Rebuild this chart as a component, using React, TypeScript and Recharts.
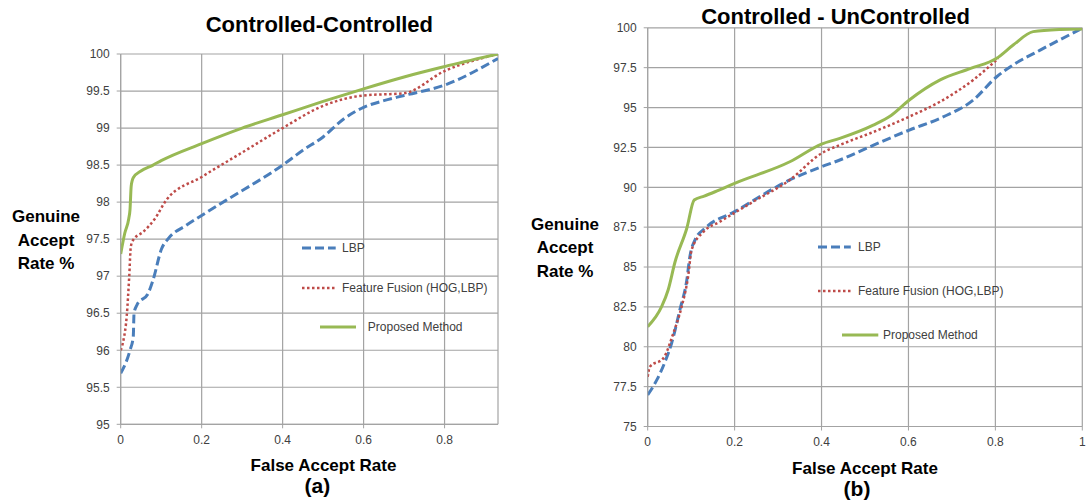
import React from 'react';
import { LineChart, Line, XAxis, YAxis, CartesianGrid } from 'recharts';

// ---------- Chart (a): Controlled-Controlled ----------
const aLbpFar = [0, 0.023, 0.031, 0.033, 0.04, 0.068, 0.08, 0.101, 0.118, 0.163, 0.2, 0.262, 0.4, 0.45, 0.5, 0.55, 0.6, 0.65, 0.7, 0.8, 0.932];
const aLbpGar = [95.69, 96.0, 96.18, 96.5, 96.61, 96.77, 96.95, 97.37, 97.51, 97.69, 97.82, 98.03, 98.5, 98.7, 98.88, 99.12, 99.28, 99.37, 99.44, 99.58, 99.94];

const aFusionFar = [0, 0.007, 0.015, 0.021, 0.025, 0.031, 0.056, 0.085, 0.113, 0.2, 0.3, 0.4, 0.5, 0.6, 0.7, 0.8, 0.932];
const aFusionGar = [96.0, 96.14, 96.47, 96.99, 97.4, 97.49, 97.6, 97.78, 98.03, 98.34, 98.67, 99.0, 99.3, 99.44, 99.47, 99.77, 100];

const aPropFar = [0, 0.01, 0.02, 0.023, 0.026, 0.031, 0.05, 0.08, 0.1, 0.2, 0.3, 0.4, 0.5, 0.6, 0.7, 0.8, 0.932];
const aPropGar = [97.3, 97.58, 97.78, 97.9, 98.22, 98.33, 98.42, 98.5, 98.56, 98.79, 99.0, 99.18, 99.36, 99.53, 99.69, 99.83, 100];

const aXTicks = [0, 0.2, 0.4, 0.6, 0.8];
const aYTicks = [95, 95.5, 96, 96.5, 97, 97.5, 98, 98.5, 99, 99.5, 100];

// ---------- Chart (b): Controlled - UnControlled ----------
const bLbpFar = [0, 0.021, 0.04, 0.055, 0.074, 0.09, 0.097, 0.109, 0.132, 0.2, 0.327, 0.4, 0.442, 0.512, 0.602, 0.673, 0.749, 0.803, 0.841, 0.903, 0.995];
const bLbpGar = [76.98, 77.92, 79.07, 80.22, 82.31, 84.19, 85.65, 86.7, 87.43, 88.47, 90.46, 91.29, 91.71, 92.55, 93.59, 94.33, 95.47, 96.93, 97.67, 98.6, 99.9];

const bFusionFar = [0, 0.005, 0.036, 0.059, 0.078, 0.093, 0.101, 0.128, 0.166, 0.243, 0.327, 0.4, 0.442, 0.512, 0.602, 0.673, 0.749, 0.807];
const bFusionGar = [78.12, 78.75, 79.28, 80.85, 82.5, 84.4, 86.07, 87.2, 87.84, 89.1, 90.46, 92.13, 92.65, 93.39, 94.43, 95.37, 96.73, 98.09];

const bPropFar = [0, 0.032, 0.047, 0.063, 0.09, 0.107, 0.13, 0.155, 0.2, 0.327, 0.4, 0.442, 0.519, 0.56, 0.602, 0.673, 0.743, 0.803, 0.841, 0.887, 0.95, 1.0];
const bPropGar = [81.26, 82.51, 83.56, 85.33, 87.43, 89.2, 89.45, 89.72, 90.25, 91.6, 92.71, 93.07, 93.9, 94.5, 95.47, 96.73, 97.45, 98.09, 98.92, 99.76, 99.9, 99.93];

const bXTicks = [0, 0.2, 0.4, 0.6, 0.8, 1];
const bYTicks = [75, 77.5, 80, 82.5, 85, 87.5, 90, 92.5, 95, 97.5, 100];

const legendNames = ['LBP', 'Feature Fusion (HOG,LBP)', 'Proposed Method'];

const BLUE = '#4a7ebb';
const RED = '#be4b48';
const GREEN = '#98b954';
const GRID = '#a3a3a3';
const TEXT = '#404040';
const FONT = '"Liberation Sans", Arial, sans-serif';

const zip = (xs: number[], ys: number[]) => xs.map((x, i) => ({ x, y: ys[i] }));

const styles = [
  { stroke: BLUE, strokeWidth: 3, strokeDasharray: '9 4' },
  { stroke: RED, strokeWidth: 2.5, strokeDasharray: '2.5 2.5' },
  { stroke: GREEN, strokeWidth: 3, strokeDasharray: undefined as string | undefined },
];

const tickStyle = { fontSize: 12, fill: TEXT, fontFamily: FONT };

function LegendItem({ x1, x2, y, textX, idx }: { x1: number; x2: number; y: number; textX: number; idx: number }) {
  const s = styles[idx];
  return (
    <>
      <svg style={{ position: 'absolute', left: x1, top: y - 3, overflow: 'visible' }} width={x2 - x1} height={6}>
        <line x1={0} y1={3} x2={x2 - x1} y2={3} stroke={s.stroke} strokeWidth={s.strokeWidth} strokeDasharray={s.strokeDasharray} />
      </svg>
      <div style={{ position: 'absolute', left: textX, top: y - 8, fontSize: 12, lineHeight: '16px', color: TEXT, fontFamily: FONT, whiteSpace: 'nowrap' }}>
        {legendNames[idx]}
      </div>
    </>
  );
}

function Centered({ x, y, size, children, lh }: { x: number; y: number; size: number; children: React.ReactNode; lh?: number }) {
  return (
    <div
      style={{
        position: 'absolute',
        left: x,
        top: y,
        transform: 'translate(-50%, -50%)',
        fontSize: size,
        fontWeight: 'bold',
        fontFamily: FONT,
        color: '#000',
        whiteSpace: 'nowrap',
        textAlign: 'center',
        lineHeight: lh ? `${lh}px` : `${Math.round(size * 0.95)}px`,
      }}
    >
      {children}
    </div>
  );
}

function Panel({
  series,
  xDomain,
  yDomain,
  xTicks,
  yTicks,
  margin,
  width,
}: {
  series: { x: number; y: number }[][];
  xDomain: [number, number];
  yDomain: [number, number];
  xTicks: number[];
  yTicks: number[];
  margin: { top: number; right: number; bottom: number; left: number };
  width: number;
}) {
  return (
    <LineChart width={width} height={501} margin={margin}>
      <CartesianGrid stroke={GRID} strokeWidth={1.2} />
      <XAxis
        dataKey="x"
        type="number"
        domain={xDomain}
        ticks={xTicks}
        allowDataOverflow
        stroke={GRID}
        tickSize={4}
        tickMargin={7}
        height={30}
        tick={tickStyle}
      />
      <YAxis
        dataKey="y"
        type="number"
        domain={yDomain}
        ticks={yTicks}
        allowDataOverflow
        stroke={GRID}
        tickSize={4}
        tickMargin={7}
        width={50}
        tick={tickStyle}
      />
      {series.map((d, i) => (
        <Line
          key={i}
          data={d}
          dataKey="y"
          type="monotone"
          dot={false}
          isAnimationActive={false}
          stroke={styles[i].stroke}
          strokeWidth={styles[i].strokeWidth}
          strokeDasharray={styles[i].strokeDasharray}
        />
      ))}
    </LineChart>
  );
}

export default function App() {
  const aSeries = [zip(aLbpFar, aLbpGar), zip(aFusionFar, aFusionGar), zip(aPropFar, aPropGar)];
  const bSeries = [zip(bLbpFar, bLbpGar), zip(bFusionFar, bFusionGar), zip(bPropFar, bPropGar)];
  return (
    <div style={{ position: 'absolute', left: 0, top: 0, width: 1089, height: 501, background: '#fff', overflow: 'hidden' }}>
      <div style={{ position: 'absolute', left: 0, top: 0 }}>
        <Panel
          series={aSeries}
          xDomain={[0, 0.932]}
          yDomain={[95, 100]}
          xTicks={aXTicks}
          yTicks={aYTicks}
          width={545}
          margin={{ top: 54, right: 47, bottom: 46.7, left: 70.7 }}
        />
      </div>
      <div style={{ position: 'absolute', left: 545, top: 0 }}>
        <Panel
          series={bSeries}
          xDomain={[0, 1]}
          yDomain={[75, 100]}
          xTicks={bXTicks}
          yTicks={bYTicks}
          width={544}
          margin={{ top: 27.8, right: 6.7, bottom: 44.5, left: 52.7 }}
        />
      </div>

      <Centered x={319.4} y={23.5} size={22}>Controlled-Controlled</Centered>
      <Centered x={835.6} y={15.8} size={22}>Controlled - UnControlled</Centered>

      <Centered x={46} y={240} size={17} lh={23.5}>
        Genuine<br />Accept<br />Rate %
      </Centered>
      <Centered x={565} y={247.5} size={17} lh={23.5}>
        Genuine<br />Accept<br />Rate %
      </Centered>

      <Centered x={323.5} y={465.5} size={17}>False Accept Rate</Centered>
      <Centered x={317.3} y={486} size={21}>(a)</Centered>
      <Centered x={865} y={468.5} size={17}>False Accept Rate</Centered>
      <Centered x={857} y={489} size={21}>(b)</Centered>

      <LegendItem idx={0} x1={302} x2={335.7} y={247.5} textX={342} />
      <LegendItem idx={1} x1={302} x2={335.7} y={287.5} textX={342} />
      <LegendItem idx={2} x1={320} x2={356} y={327} textX={367.8} />

      <LegendItem idx={0} x1={818.3} x2={851.1} y={246.6} textX={858} />
      <LegendItem idx={1} x1={818.3} x2={851.1} y={290.6} textX={858} />
      <LegendItem idx={2} x1={841.5} x2={877.8} y={334.9} textX={883} />
    </div>
  );
}
